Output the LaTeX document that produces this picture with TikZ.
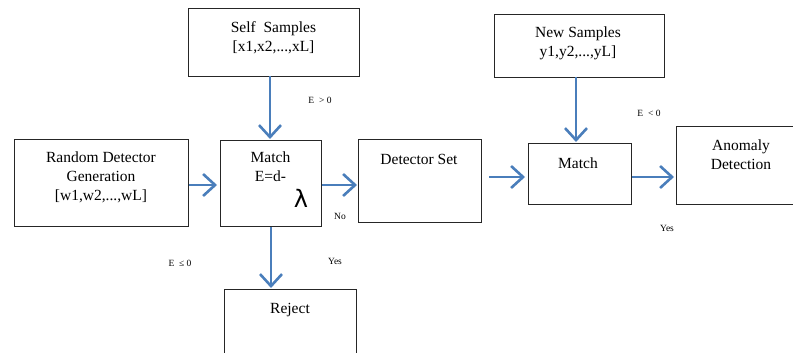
\documentclass[tikz,border=0pt]{standalone}
\usepackage{fontspec}
\setmainfont{Liberation Serif}
\newfontfamily\boxfont{Liberation Serif}
\newfontfamily\lamfont{DejaVu Sans}
\usetikzlibrary{arrows.meta,positioning}
\definecolor{arrblue}{HTML}{4A7EBB}
\begin{document}
\begin{tikzpicture}[x=1pt,y=-1pt,
  box/.style={draw=black!85,line width=0.9pt,rectangle,inner sep=0pt,anchor=north west},
  txt/.style={font=\boxfont\fontsize{15.5}{19}\selectfont,align=center,inner sep=0pt},
  lbl/.style={font=\boxfont\fontsize{9.5}{11}\selectfont,inner sep=0pt},
  flow/.style={draw=arrblue,line width=2.8pt,-{Straight Barb[length=12pt,width=22pt,line width=2.6pt]}}]
\useasboundingbox (0,0) rectangle (793,353);
% boxes
\node[box,minimum width=171pt,minimum height=68pt] (self) at (188,8) {};
\node[box,minimum width=174pt,minimum height=87pt] (rdg) at (14,139) {};
\node[box,minimum width=101pt,minimum height=86pt] (m1) at (220,140) {};
\node[box,minimum width=123pt,minimum height=83pt] (ds) at (358,139) {};
\node[box,minimum width=103pt,minimum height=61pt] (m2) at (528,143) {};
\node[box,minimum width=170pt,minimum height=63pt] (ns) at (494,14) {};
\node[box,minimum width=130pt,minimum height=78pt] (an) at (676,126) {};
\node[box,minimum width=132pt,minimum height=80pt] (rej) at (224,289) {};
% texts
\node[txt] (tself) at (273.5,37.5) {Self\ \ Samples\\{[x1,x2,...,xL]}};
\node[txt] (trdg) at (101,177) {Random Detector\\Generation\\{[w1,w2,...,wL]}};
\node[txt,anchor=north] (tm1) at (270.5,152) {Match\\E=d-};
\node[txt,font=\lamfont\fontsize{24}{24}\selectfont] (lam) at (301,198) {λ};
\node[txt] (tds) at (419,159) {Detector Set};
\node[txt] (tm2) at (578,163) {Match};
\node[txt] (tns) at (578,43) {New Samples\\y1,y2,...,yL]};
\node[txt] (tan) at (741,155) {Anomaly\\Detection};
\node[txt] (trej) at (290,310) {Reject};
% labels
\node[lbl] (lgt) at (320,100) {E\ \ > 0};
\node[lbl] (llt) at (649,113) {E\ \ < 0};
\node[lbl] (lle) at (180,263) {E\ \ ≤ 0};
\node[lbl] (lno) at (340,216) {No};
\node[lbl] (ly1) at (335,261) {Yes};
\node[lbl] (ly2) at (667,228) {Yes};
% connectors
\coordinate (a1) at (189,185);
\coordinate (a2) at (217,185);
\draw[flow] (a1) -- (a2);
\coordinate (b1) at (322,185);
\coordinate (b2) at (357,185);
\draw[flow] (b1) -- (b2);
\coordinate (c1) at (489,177);
\coordinate (c2) at (525,177);
\draw[flow] (c1) -- (c2);
\coordinate (d1) at (632,177);
\coordinate (d2) at (674,177);
\draw[flow] (d1) -- (d2);
\coordinate (e1) at (270,76);
\coordinate (e2) at (270,139);
\draw[flow] (e1) -- (e2);
\coordinate (f1) at (576,77);
\coordinate (f2) at (576,142);
\draw[flow] (f1) -- (f2);
\coordinate (g1) at (271,227);
\coordinate (g2) at (271,288);
\draw[flow] (g1) -- (g2);
\end{tikzpicture}
\end{document}
